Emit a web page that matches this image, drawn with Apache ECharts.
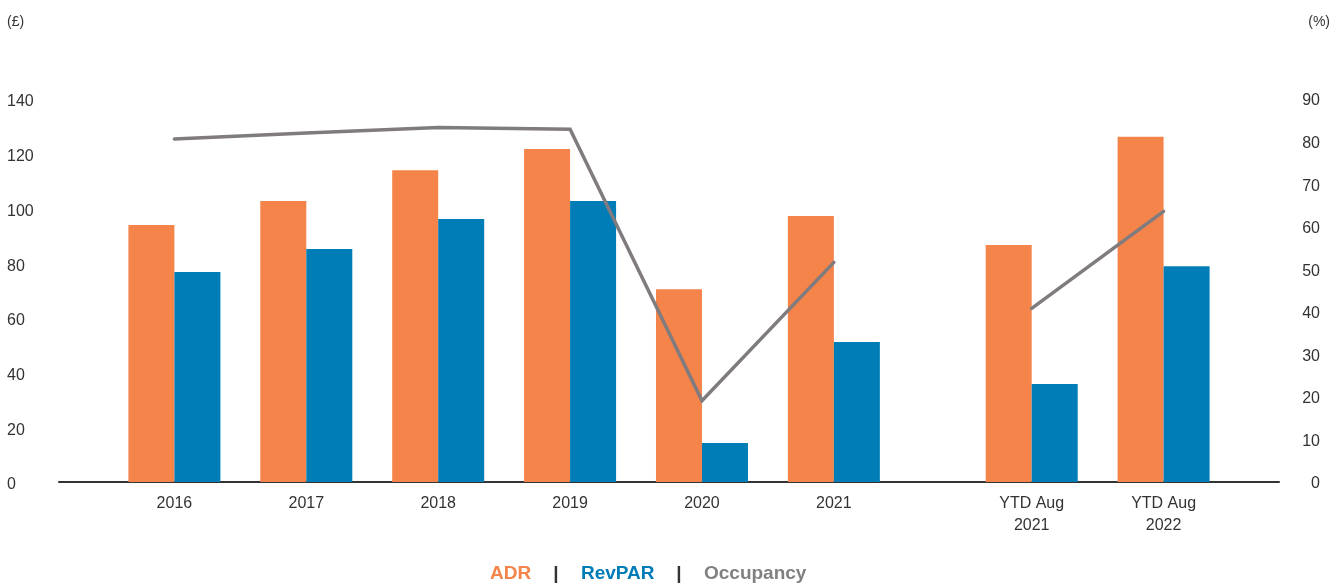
<!DOCTYPE html>
<html>
<head>
<meta charset="utf-8">
<script src="https://cdn.jsdelivr.net/npm/echarts@6/dist/echarts.min.js"></script>
<style>
  html, body { margin: 0; padding: 0; background: #ffffff; }
  #chart { width: 1343px; height: 584px; }
</style>
</head>
<body>
<div id="chart"></div>
<script>
// Periods shown on the horizontal axis
const categories = ['2016', '2017', '2018', '2019', '2020', '2021', 'YTD Aug\n2021', 'YTD Aug\n2022'];
// Average daily rate (£)
const adr = [93.9, 102.7, 114.0, 121.7, 70.5, 97.2, 86.6, 126.2];
// Revenue per available room (£)
const revpar = [76.8, 85.2, 96.1, 102.7, 14.3, 51.2, 35.8, 78.9];
// Occupancy (%)
const occupancy = [80.6, 82.0, 83.3, 82.9, 19.1, 51.6, 40.8, 63.6];
// Tick labels
const leftTicks = [0, 20, 40, 60, 80, 100, 120, 140];
const rightTicks = [0, 10, 20, 30, 40, 50, 60, 70, 80, 90];

// Full years and year-to-date periods are separated by an extra half slot
const FIRST_YTD = 6;
const slot = i => i + (i >= FIRST_YTD ? 0.5 : 0);

const orange = '#f4844a';
const blue = '#007cb6';
const grey = '#7f7b7f';
const textColor = '#333333';
const font = '"Liberation Sans", Arial, sans-serif';

const adrData = adr.map((v, i) => [slot(i), v]);
const revparData = revpar.map((v, i) => [slot(i), v]);
const occData = [];
occupancy.forEach((v, i) => {
  if (i === FIRST_YTD) occData.push([slot(i) - 0.75, '-']);
  occData.push([slot(i), v]);
});

function labelFor(v) {
  for (let i = 0; i < categories.length; i++) {
    if (Math.abs(slot(i) - v) < 1e-6) return categories[i];
  }
  return '';
}

const legendFont = 'bold 19px ' + font;
const legendY = 574;

const chart = echarts.init(document.getElementById('chart'), null, { renderer: 'canvas' });
chart.setOption({
  animation: false,
  backgroundColor: '#ffffff',
  textStyle: { fontFamily: font },
  grid: { left: 59, right: 64, top: 99, bottom: 102, containLabel: false },
  xAxis: {
    type: 'value',
    min: -0.875,
    max: 8.375,
    interval: 0.125,
    axisLine: { show: true, lineStyle: { color: '#333333', width: 2 } },
    axisTick: { show: false },
    splitLine: { show: false },
    axisLabel: {
      margin: 11,
      color: textColor,
      fontSize: 16,
      lineHeight: 22,
      fontFamily: font,
      showMinLabel: true,
      showMaxLabel: true,
      formatter: labelFor
    }
  },
  yAxis: [
    {
      type: 'value',
      min: leftTicks[0],
      max: leftTicks[leftTicks.length - 1],
      interval: leftTicks[1] - leftTicks[0],
      axisLine: { show: false },
      axisTick: { show: false },
      splitLine: { show: false },
      axisLabel: { color: textColor, fontSize: 16, align: 'left', margin: 52, fontFamily: font, verticalAlign: 'top', lineHeight: 6 }
    },
    {
      type: 'value',
      min: rightTicks[0],
      max: rightTicks[rightTicks.length - 1],
      interval: rightTicks[1] - rightTicks[0],
      position: 'right',
      axisLine: { show: false },
      axisTick: { show: false },
      splitLine: { show: false },
      axisLabel: { color: textColor, fontSize: 16, align: 'right', margin: 41, fontFamily: font, verticalAlign: 'top', lineHeight: 4 }
    }
  ],
  series: [
    {
      name: 'ADR',
      type: 'bar',
      data: adrData,
      barWidth: 46,
      barGap: '0%',
      itemStyle: { color: orange },
      z: 2
    },
    {
      name: 'RevPAR',
      type: 'bar',
      data: revparData,
      barWidth: 46,
      barGap: '0%',
      itemStyle: { color: blue },
      z: 2
    },
    {
      name: 'Occupancy',
      type: 'line',
      yAxisIndex: 1,
      data: occData,
      connectNulls: false,
      symbol: 'none',
      lineStyle: { color: grey, width: 3.5, cap: 'round', join: 'miter' },
      z: 5
    }
  ],
  graphic: [
    {
      type: 'text', left: 7, top: 15,
      style: { text: '(£)', fill: textColor, font: '14px ' + font }
    },
    {
      type: 'text', right: 13, top: 15,
      style: { text: '(%)', fill: textColor, font: '14px ' + font, textAlign: 'right' }
    },
    // Legend row: ADR | RevPAR | Occupancy
    { type: 'text', x: 490, y: legendY, style: { text: 'ADR', fill: orange, font: legendFont, verticalAlign: 'middle' } },
    { type: 'text', x: 556, y: legendY, style: { text: '|', fill: '#333333', font: legendFont, align: 'center', verticalAlign: 'middle' } },
    { type: 'text', x: 581, y: legendY, style: { text: 'RevPAR', fill: blue, font: legendFont, verticalAlign: 'middle' } },
    { type: 'text', x: 679, y: legendY, style: { text: '|', fill: '#333333', font: legendFont, align: 'center', verticalAlign: 'middle' } },
    { type: 'text', x: 704, y: legendY, style: { text: 'Occupancy', fill: '#808080', font: legendFont, verticalAlign: 'middle' } }
  ]
});
</script>
</body>
</html>
